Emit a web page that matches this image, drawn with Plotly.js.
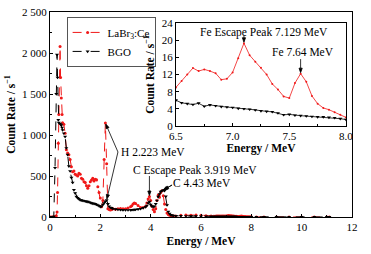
<!DOCTYPE html>
<html><head><meta charset="utf-8">
<script src="https://cdn.plot.ly/plotly-3.0.1.min.js"></script>
<style>html,body{margin:0;padding:0;background:#fff;}#chart{width:371px;height:254px;}</style>
</head><body><div id="chart"></div>
<script>
// ---- data ----
const energyLow = [0, 0.05, 0.1, 0.15, 0.2, 0.25, 0.28, 0.3, 0.33, 0.35, 0.4, 0.42, 0.45, 0.48, 0.5, 0.55, 0.6, 0.65, 0.7, 0.75, 0.8, 0.85, 0.9, 0.95, 1.0, 1.05, 1.1, 1.15, 1.2, 1.25, 1.3, 1.35, 1.4, 1.45, 1.5, 1.55, 1.6, 1.65, 1.7, 1.75, 1.8, 1.85, 1.9, 1.95, 2.0, 2.05, 2.1, 2.15, 2.2, 2.25, 2.3, 2.35, 2.4, 2.45, 2.5, 2.6, 2.7, 2.8, 2.9, 3.0, 3.1, 3.2, 3.25, 3.3, 3.35, 3.4, 3.5, 3.6, 3.7, 3.8, 3.85, 3.9, 3.95, 4.0, 4.05, 4.1, 4.15, 4.2, 4.25, 4.3, 4.35, 4.4, 4.45, 4.5, 4.55, 4.6, 4.65, 4.7, 4.75, 4.8, 4.85, 4.9, 5.0, 5.2, 5.4, 5.6, 5.8, 6.0, 6.2, 6.4];
const labr3Low = [0, 0, 0, 0, 5, 15, 60, 300, 900, 1250, 2080, 1700, 1450, 1250, 1150, 1130, 1020, 820, 780, 760, 700, 614, 553, 560, 520, 512, 500, 533, 520, 472, 460, 431, 420, 380, 350, 380, 431, 450, 472, 440, 460, 455, 370, 300, 232, 126, 200, 700, 1145, 650, 100, 90, 85, 90, 100, 95, 100, 105, 100, 100, 110, 125, 138, 160, 170, 165, 140, 115, 115, 130, 170, 220, 250, 200, 130, 90, 65, 100, 200, 268, 240, 300, 320, 260, 160, 90, 50, 30, 22, 18, 15, 13, 12, 20, 25, 22, 25, 20, 15, 11];
const bgoLow = [0, 0, 0, 5, 600, 1500, 1980, 1700, 1183, 1150, 1140, 1130, 1120, 1090, 1060, 1020, 980, 840, 760, 620, 560, 480, 420, 330, 290, 248, 232, 220, 207, 205, 200, 197, 192, 190, 187, 182, 175, 170, 165, 162, 159, 152, 145, 135, 126, 130, 150, 170, 190, 207, 160, 130, 115, 110, 100, 95, 90, 88, 85, 85, 85, 85, 87, 88, 90, 90, 95, 100, 110, 122, 140, 170, 187, 150, 130, 125, 130, 160, 200, 248, 280, 309, 320, 329, 320, 250, 146, 65, 40, 25, 20, 17, 15, 14, 12, 11, 10, 9, 8, 7];

const energyFe = [6.5, 6.55, 6.6, 6.65, 6.7, 6.75, 6.8, 6.85, 6.9, 6.95, 7.0, 7.05, 7.1, 7.15, 7.2, 7.25, 7.3, 7.35, 7.4, 7.45, 7.5, 7.55, 7.6, 7.65, 7.7, 7.75, 7.8, 7.85, 7.9, 7.95, 8.0];
const labr3Fe = [9.0, 10.5, 12.0, 13.5, 12.8, 13.2, 12.8, 12.3, 10.8, 11.0, 12.5, 15.8, 19.3, 16.5, 15.0, 13.6, 12.0, 9.8, 8.5, 6.9, 6.5, 10.0, 12.2, 10.3, 7.0, 5.2, 4.2, 3.8, 3.2, 2.6, 2.0];
const bgoFe = [6.0, 5.4, 5.2, 5.0, 5.3, 4.6, 4.9, 4.7, 4.5, 4.4, 4.3, 4.1, 4.0, 3.9, 3.7, 3.5, 3.4, 3.3, 3.0, 2.6, 2.7, 2.5, 2.4, 2.3, 2.2, 2.1, 2.1, 2.0, 1.9, 1.7, 1.5];

const energyHigh = [8.2, 8.5, 9.0, 9.5, 10.0, 10.5, 11.0, 11.1];
const labr3High = [1.5, 1.2, 1.0, 0.8, 0.7, 0.6, 0.5, 0];
const bgoHigh = [1.2, 1.0, 0.8, 0.6, 0.5, 0.4, 0.3, 0];

const seriesNames = ['LaBr<sub>3</sub>:Ce', 'BGO'];
const mainYTickVals = [0, 500, 1000, 1500, 2000, 2500];
const mainYTickText = ['0', '500', '1 000', '1 500', '2 000', '2 500'];
const mainXTickVals = [0, 2, 4, 6, 8, 10, 12];
const insetXTickVals = [6.5, 7.0, 7.5, 8.0];
const insetXTickText = ['6.5', '7.0', '7.5', '8.0'];
const insetYTickVals = [0, 4, 8, 12, 16, 20, 24];

// ---- build ----
const energyAll = energyLow.concat(energyFe, energyHigh);
const labr3All = labr3Low.concat(labr3Fe, labr3High);
const bgoAll = bgoLow.concat(bgoFe, bgoHigh);

const RED = '#f01818';
const FONT = 'Liberation Serif, Times New Roman, serif';
const W = 371, H = 254, M = {l: 50, r: 19, t: 12, b: 37, pad: 0};
const PW = W - M.l - M.r, PH = H - M.t - M.b;
const mainXRange = [0, 12], mainYRange = [0, 2500];
const insetXRange = [6.5, 8.0], insetYRange = [0, 24];
const insetXDomain = [0.417, 0.98], insetYDomain = [0.444, 0.946];

function peak(xs, ys, lo, hi) {
  let bi = -1;
  for (let i = 0; i < xs.length; i++) {
    if (xs[i] >= lo && xs[i] <= hi && (bi < 0 || ys[i] > ys[bi])) bi = i;
  }
  return [xs[bi], ys[bi]];
}

const traces = [
  {x: energyAll, y: labr3All, name: seriesNames[0], type: 'scatter', mode: 'lines+markers',
   line: {color: RED, width: 1, dash: 'dash'}, marker: {color: RED, size: 3, symbol: 'circle'}, xaxis: 'x', yaxis: 'y'},
  {x: energyAll, y: bgoAll, name: seriesNames[1], type: 'scatter', mode: 'lines+markers',
   line: {color: 'black', width: 1, dash: 'dash'}, marker: {color: 'black', size: 3.5, symbol: 'triangle-down'}, xaxis: 'x', yaxis: 'y'},
  {x: energyFe, y: labr3Fe, type: 'scatter', mode: 'lines+markers', showlegend: false,
   line: {color: RED, width: 0.8}, marker: {color: RED, size: 2}, xaxis: 'x2', yaxis: 'y2'},
  {x: energyFe, y: bgoFe, type: 'scatter', mode: 'lines+markers', showlegend: false,
   line: {color: 'black', width: 0.8}, marker: {color: 'black', size: 3.5, symbol: 'triangle-down'}, xaxis: 'x2', yaxis: 'y2'}
];

const hRed = peak(energyAll, labr3All, 2.0, 2.4);
const hBgo = peak(energyAll, bgoAll, 2.0, 2.4);
const cEsc = peak(energyAll, labr3All, 3.8, 4.05);
const cRed = peak(energyAll, labr3All, 4.3, 4.6);
const cBgo = peak(energyAll, bgoAll, 4.3, 4.7);
const feEsc = peak(energyFe, labr3Fe, 7.0, 7.3);
const fe764 = peak(energyFe, labr3Fe, 7.5, 7.7);

// pixel-per-unit scales of the two subplots (used only to orient arrow heads)
const scaleMain = [PW / (mainXRange[1] - mainXRange[0]), PH / (mainYRange[1] - mainYRange[0])];
const scaleInset = [PW * (insetXDomain[1] - insetXDomain[0]) / (insetXRange[1] - insetXRange[0]),
                    PH * (insetYDomain[1] - insetYDomain[0]) / (insetYRange[1] - insetYRange[0])];

function arrowShape(xref, yref, head, tail, sc) {
  const dx = (tail[0] - head[0]) * sc[0], dy = (tail[1] - head[1]) * sc[1];
  const L = Math.hypot(dx, dy), ux = dx / L, uy = dy / L;
  const s = 1, hl = 4.5, hw = 1.6;
  const tx = ux * s, ty = uy * s;
  const bx = tx + ux * hl, by = ty + uy * hl;
  const f = v => v.toFixed(2);
  const path = 'M' + f(dx) + ',' + f(dy) + 'L' + f(bx) + ',' + f(by) +
    'M' + f(tx) + ',' + f(ty) + 'L' + f(bx - uy * hw) + ',' + f(by + ux * hw) + 'L' + f(bx + uy * hw) + ',' + f(by - ux * hw) + 'Z';
  return {type: 'path', xref: xref, yref: yref, xsizemode: 'pixel', ysizemode: 'pixel', xanchor: head[0], yanchor: head[1],
    path: path, line: {color: 'black', width: 0.8}, fillcolor: 'black', layer: 'above'};
}
function label(xref, yref, x, y, text) {
  return {xref: xref, yref: yref, x: x, y: y, text: text, showarrow: false, font: {size: 11.5, family: FONT, color: 'black'}};
}

const shapes = [
  arrowShape('x', 'y', hRed, [2.70, 793], scaleMain),
  arrowShape('x', 'y', hBgo, [2.70, 793], scaleMain),
  arrowShape('x', 'y', cEsc, [cEsc[0], 500], scaleMain),
  arrowShape('x', 'y', cRed, [4.85, 390], scaleMain),
  arrowShape('x', 'y', cBgo, [4.85, 390], scaleMain),
  arrowShape('x2', 'y2', feEsc, [feEsc[0], 21.0], scaleInset),
  arrowShape('x2', 'y2', fe764, [fe764[0], 15.6], scaleInset)
];

const annotations = [
  label('x', 'y', 4.11, 793, 'H 2.223 MeV'),
  label('x', 'y', 5.78, 573, 'C Escape Peak 3.919 MeV'),
  label('x', 'y', 6.02, 415, 'C 4.43 MeV'),
  label('x2', 'y2', 7.277, 21.9, 'Fe Escape Peak 7.129 MeV'),
  label('x2', 'y2', 7.617, 17.2, 'Fe 7.64 MeV')
];

const axisCommon = {showline: true, mirror: true, linecolor: 'black', linewidth: 1, showgrid: false, zeroline: false,
  ticks: 'inside', ticklen: 3, tickwidth: 1, tickcolor: 'black', tickfont: {size: 11, family: FONT, color: 'black'}};

const layout = {
  width: W, height: H, margin: M,
  paper_bgcolor: 'white', plot_bgcolor: 'white',
  font: {family: FONT, size: 11, color: 'black'},
  showlegend: true,
  legend: {x: 0.055, y: 0.976, xanchor: 'left', yanchor: 'top', bordercolor: '#555555', borderwidth: 1,
    bgcolor: 'white', font: {size: 11, family: FONT, color: 'black'}, itemwidth: 30, tracegroupgap: 0},
  xaxis: Object.assign({}, axisCommon, {domain: [0, 1], range: mainXRange, tickmode: 'array', tickvals: mainXTickVals,
    minor: {dtick: 1, tick0: 0, ticks: 'inside', ticklen: 2, tickcolor: 'black'},
    title: {text: '<b>Energy / MeV</b>', font: {size: 11.5, family: FONT}, standoff: 4}}),
  yaxis: Object.assign({}, axisCommon, {domain: [0, 1], range: mainYRange, tickmode: 'array', tickvals: mainYTickVals, ticktext: mainYTickText,
    minor: {dtick: 250, tick0: 0, ticks: 'inside', ticklen: 2, tickcolor: 'black'},
    title: {text: '<b>Count Rate / s<sup>−1</sup></b>', font: {size: 11.5, family: FONT}, standoff: 4}}),
  xaxis2: Object.assign({}, axisCommon, {domain: insetXDomain, anchor: 'y2', range: insetXRange, tickmode: 'array',
    tickvals: insetXTickVals, ticktext: insetXTickText,
    minor: {dtick: 0.25, tick0: 6.5, ticks: 'inside', ticklen: 2, tickcolor: 'black'},
    title: {text: '<b>Energy / MeV</b>', font: {size: 11.5, family: FONT}, standoff: 1}}),
  yaxis2: Object.assign({}, axisCommon, {domain: insetYDomain, anchor: 'x2', range: insetYRange, tickmode: 'array', tickvals: insetYTickVals,
    title: {text: '<b>Count Rate / s<sup>−1</sup></b>', font: {size: 11.5, family: FONT}, standoff: 4}}),
  shapes: shapes,
  annotations: annotations
};

Plotly.newPlot('chart', traces, layout, {staticPlot: true, displayModeBar: false});
</script>
</body></html>
